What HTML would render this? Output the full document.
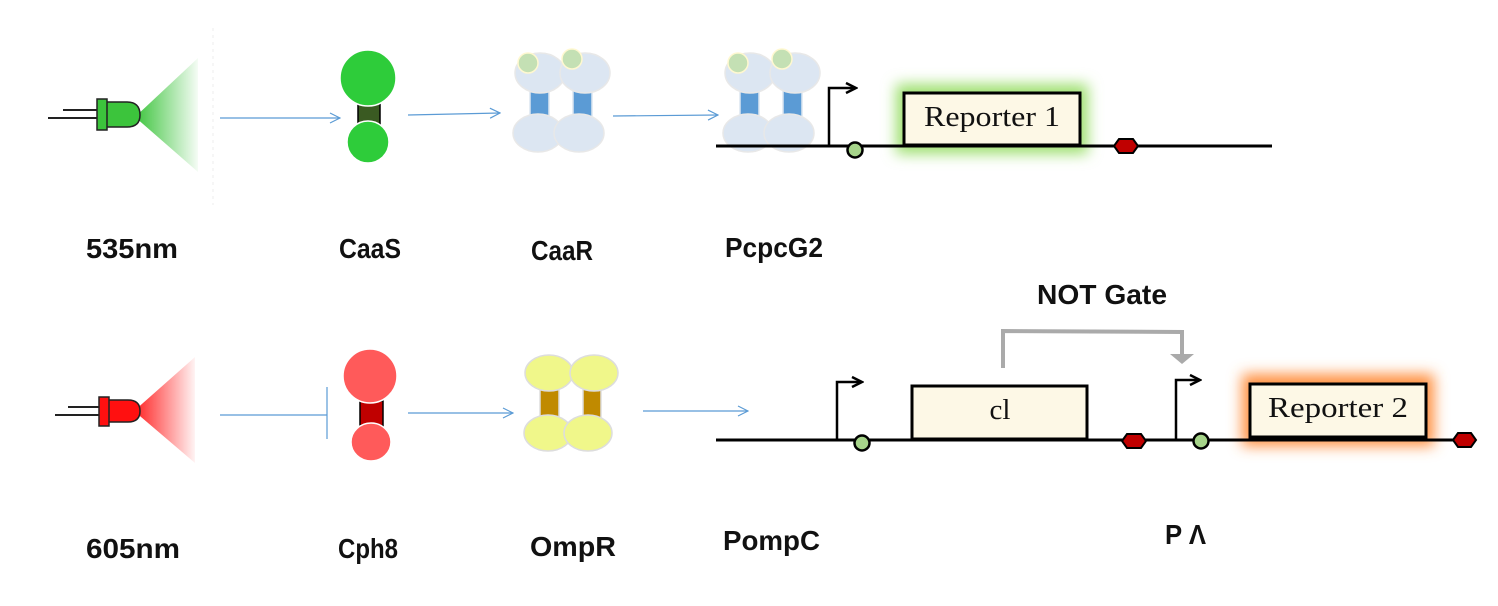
<!DOCTYPE html>
<html><head><meta charset="utf-8"><style>
html,body{margin:0;padding:0;background:#fff;}
svg{display:block;}
.lbl{font-family:"Liberation Sans Narrow","Liberation Sans",sans-serif;font-weight:bold;font-size:28px;fill:#111;}
.box{font-family:"Liberation Serif",serif;font-size:29px;fill:#111;}
</style></head><body>
<svg width="1498" height="606" viewBox="0 0 1498 606" xmlns="http://www.w3.org/2000/svg">
<defs>
<linearGradient id="gg" x1="0" x2="1" y1="0" y2="0"><stop offset="0" stop-color="#3cc43c"/><stop offset="1" stop-color="#3cc43c" stop-opacity="0.05"/></linearGradient>
<linearGradient id="rg" x1="0" x2="1" y1="0" y2="0"><stop offset="0" stop-color="#ff2020"/><stop offset="1" stop-color="#ff2020" stop-opacity="0.05"/></linearGradient>
<filter id="blur" x="-30%" y="-60%" width="160%" height="220%"><feGaussianBlur stdDeviation="7"/></filter>
<filter id="sh" x="-5%" y="-100%" width="110%" height="400%"><feGaussianBlur stdDeviation="2"/></filter>
<marker id="oa" markerWidth="12" markerHeight="12" refX="11" refY="6" orient="auto" markerUnits="userSpaceOnUse"><path d="M1,1 L11,6 L1,11" fill="none" stroke="#5b9bd5" stroke-width="1.2"/></marker>
<marker id="ba" markerWidth="14" markerHeight="14" refX="12" refY="7" orient="auto" markerUnits="userSpaceOnUse"><path d="M2,2 L12,7 L2,12" fill="none" stroke="#000" stroke-width="2.5"/></marker>
</defs>

<!-- green LED -->
<line x1="213" y1="28" x2="213" y2="205" stroke="#eee" stroke-width="1" stroke-dasharray="3,4"/>
<polygon points="135,117 198,58 198,172" fill="url(#gg)"/>
<line x1="63" y1="110" x2="98" y2="110" stroke="#222" stroke-width="2"/>
<line x1="48" y1="118" x2="98" y2="118" stroke="#222" stroke-width="2"/>
<path d="M106,102 L127,102 Q140,102 140,115 Q140,127 127,127 L106,127 Z" fill="#3cc43c" stroke="#222" stroke-width="1.5"/>
<rect x="97" y="99" width="10" height="31" fill="#3cc43c" stroke="#222" stroke-width="1.5"/>

<!-- red LED -->
<polygon points="134,411 195,357 195,463" fill="url(#rg)"/>
<line x1="68" y1="407" x2="100" y2="407" stroke="#222" stroke-width="2"/>
<line x1="55" y1="415" x2="100" y2="415" stroke="#222" stroke-width="2"/>
<path d="M108,400 L128,400 Q140,400 140,411 Q140,422 128,422 L108,422 Z" fill="#ff1010" stroke="#222" stroke-width="1.5"/>
<rect x="99" y="397" width="10" height="29" fill="#ff1010" stroke="#222" stroke-width="1.5"/>

<!-- arrows top -->
<line x1="220" y1="118" x2="340" y2="118" stroke="#5b9bd5" stroke-width="1.2" marker-end="url(#oa)"/>
<line x1="408" y1="115" x2="500" y2="113" stroke="#5b9bd5" stroke-width="1.2" marker-end="url(#oa)"/>
<line x1="613" y1="116" x2="718" y2="115" stroke="#5b9bd5" stroke-width="1.2" marker-end="url(#oa)"/>

<!-- CaaS -->
<rect x="358" y="103" width="22" height="25" fill="#3a5a22" stroke="#000" stroke-width="1.5"/>
<circle cx="368" cy="78" r="28" fill="#2ecc3a" stroke="#fff" stroke-width="1.5"/>
<circle cx="368" cy="142" r="21" fill="#2ecc3a" stroke="#fff" stroke-width="1.5"/>

<!-- CaaR -->
<g id="caar">
<rect x="530" y="88" width="19" height="34" fill="#5b9bd5" stroke="#dce6f1" stroke-width="1.5"/>
<rect x="573" y="88" width="19" height="34" fill="#5b9bd5" stroke="#dce6f1" stroke-width="1.5"/>
<ellipse cx="540" cy="73" rx="25" ry="20" fill="#dce6f2" stroke="#e8e8e8" stroke-width="1.5"/>
<ellipse cx="585" cy="73" rx="25" ry="20" fill="#dce6f2" stroke="#e8e8e8" stroke-width="1.5"/>
<ellipse cx="538" cy="133" rx="25" ry="19" fill="#dce6f2" stroke="#e8e8e8" stroke-width="1.5"/>
<ellipse cx="579" cy="133" rx="25" ry="19" fill="#dce6f2" stroke="#e8e8e8" stroke-width="1.5"/>
<circle cx="528" cy="63" r="10" fill="#c4e0b4" stroke="#fff8d0" stroke-width="1.5"/>
<circle cx="572" cy="59" r="10" fill="#c4e0b4" stroke="#fff8d0" stroke-width="1.5"/>
</g>
<use href="#caar" transform="translate(210,0)"/>

<!-- top DNA -->
<rect x="896" y="84" width="192" height="70" fill="#9ee070" filter="url(#blur)"/>
<line x1="716" y1="150" x2="1272" y2="150" stroke="#888" stroke-width="4" filter="url(#sh)" opacity="0.7"/>
<line x1="716" y1="146" x2="1272" y2="146" stroke="#000" stroke-width="3"/>
<rect x="904" y="93" width="176" height="52" fill="#fdf8e6" stroke="#000" stroke-width="3"/>
<text x="992" y="126" class="box" text-anchor="middle" textLength="136" lengthAdjust="spacingAndGlyphs">Reporter 1</text>
<path d="M829,146 L829,88 L856,88" fill="none" stroke="#000" stroke-width="2.5" marker-end="url(#ba)"/>
<circle cx="855" cy="150" r="7.5" fill="#a6d48a" stroke="#000" stroke-width="2.5"/>
<polygon points="1114,146 1119,139 1133,139 1138,146 1133,153 1119,153" fill="#c00000" stroke="#000" stroke-width="2"/>

<!-- bottom arrows -->
<line x1="220" y1="415" x2="327" y2="415" stroke="#5b9bd5" stroke-width="1.2"/>
<line x1="327" y1="387" x2="327" y2="439" stroke="#5b9bd5" stroke-width="1.2"/>
<line x1="408" y1="413" x2="513" y2="413" stroke="#5b9bd5" stroke-width="1.2" marker-end="url(#oa)"/>
<line x1="643" y1="411" x2="748" y2="411" stroke="#5b9bd5" stroke-width="1.2" marker-end="url(#oa)"/>

<!-- Cph8 -->
<rect x="360" y="401" width="23" height="25" fill="#c00000" stroke="#000" stroke-width="1.5"/>
<ellipse cx="370" cy="376" rx="27" ry="27" fill="#ff5a5a" stroke="#fff" stroke-width="1.5"/>
<ellipse cx="371" cy="442" rx="20" ry="19" fill="#ff5a5a" stroke="#fff" stroke-width="1.5"/>

<!-- OmpR -->
<rect x="540" y="388" width="19" height="32" fill="#c08a00" stroke="#ddd" stroke-width="1.5"/>
<rect x="583" y="388" width="18" height="32" fill="#c08a00" stroke="#ddd" stroke-width="1.5"/>
<ellipse cx="549" cy="373" rx="24" ry="18" fill="#f0f78a" stroke="#ddd" stroke-width="1.5"/>
<ellipse cx="594" cy="373" rx="24" ry="18" fill="#f0f78a" stroke="#ddd" stroke-width="1.5"/>
<ellipse cx="548" cy="433" rx="24" ry="18" fill="#f0f78a" stroke="#ddd" stroke-width="1.5"/>
<ellipse cx="588" cy="433" rx="24" ry="18" fill="#f0f78a" stroke="#ddd" stroke-width="1.5"/>

<!-- bottom DNA -->
<rect x="1242" y="374" width="192" height="72" fill="#ff9040" filter="url(#blur)"/>
<line x1="716" y1="444" x2="1475" y2="444" stroke="#888" stroke-width="4" filter="url(#sh)" opacity="0.7"/>
<line x1="716" y1="440" x2="1475" y2="440" stroke="#000" stroke-width="3"/>
<rect x="912" y="386" width="175" height="53" fill="#fdf8e6" stroke="#000" stroke-width="3"/>
<text x="1000" y="419" class="box" text-anchor="middle">cl</text>
<rect x="1250" y="384" width="176" height="53" fill="#fdf8e6" stroke="#000" stroke-width="3"/>
<text x="1338" y="417" class="box" text-anchor="middle" textLength="140" lengthAdjust="spacingAndGlyphs">Reporter 2</text>
<path d="M837,440 L837,382 L862,382" fill="none" stroke="#000" stroke-width="2.5" marker-end="url(#ba)"/>
<circle cx="862" cy="443" r="7.5" fill="#a6d48a" stroke="#000" stroke-width="2.5"/>
<path d="M1176,440 L1176,380 L1200,380" fill="none" stroke="#000" stroke-width="2.5" marker-end="url(#ba)"/>
<circle cx="1201" cy="441" r="7.5" fill="#a6d48a" stroke="#000" stroke-width="2.5"/>
<polygon points="1122,441 1127,434 1141,434 1146,441 1141,448 1127,448" fill="#c00000" stroke="#000" stroke-width="2"/>
<polygon points="1453,440 1458,433 1471,433 1476,440 1471,447 1458,447" fill="#c00000" stroke="#000" stroke-width="2"/>

<!-- NOT gate connector -->
<path d="M1003,368 L1003,331 L1182,332 L1182,355" fill="none" stroke="#aaa" stroke-width="4"/>
<polygon points="1170,354 1194,354 1182,364" fill="#aaa"/>

<!-- labels -->
<text x="86" y="258" class="lbl" textLength="92" lengthAdjust="spacingAndGlyphs">535nm</text>
<text x="339" y="258" class="lbl" textLength="62" lengthAdjust="spacingAndGlyphs">CaaS</text>
<text x="531" y="260" class="lbl" textLength="62" lengthAdjust="spacingAndGlyphs">CaaR</text>
<text x="725" y="257" class="lbl" textLength="98" lengthAdjust="spacingAndGlyphs">PcpcG2</text>
<text x="1037" y="304" class="lbl" textLength="130" lengthAdjust="spacingAndGlyphs">NOT Gate</text>
<text x="86" y="558" class="lbl" textLength="94" lengthAdjust="spacingAndGlyphs">605nm</text>
<text x="338" y="558" class="lbl" textLength="60" lengthAdjust="spacingAndGlyphs">Cph8</text>
<text x="530" y="556" class="lbl" textLength="86" lengthAdjust="spacingAndGlyphs">OmpR</text>
<text x="723" y="550" class="lbl" textLength="97" lengthAdjust="spacingAndGlyphs">PompC</text>
<text x="1165" y="544" class="lbl" textLength="41" lengthAdjust="spacingAndGlyphs">P Λ</text>
</svg>
</body></html>
